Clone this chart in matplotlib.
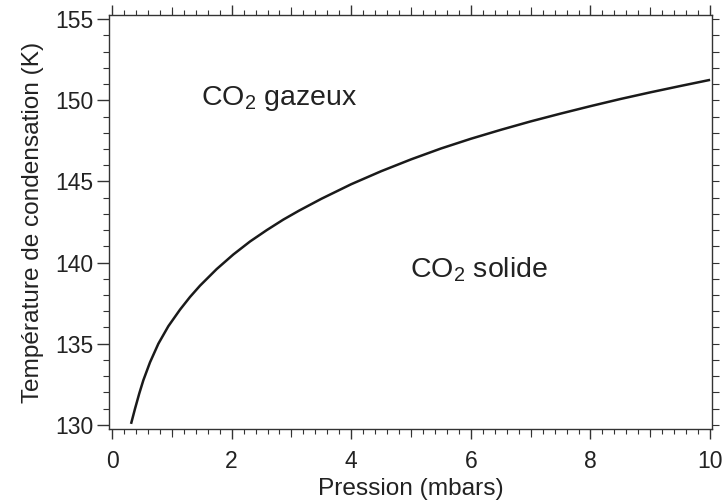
import numpy as np
import matplotlib.pyplot as plt
from matplotlib.ticker import MultipleLocator

plt.rcParams['font.family'] = ['Liberation Sans', 'DejaVu Sans']
plt.rcParams['mathtext.fontset'] = 'custom'
plt.rcParams['mathtext.rm'] = 'Liberation Sans'
plt.rcParams['mathtext.it'] = 'Liberation Sans'

# Condensation curve
pression = [0.318, 0.385, 0.457, 0.524, 0.635, 0.775, 0.942, 1.137, 1.304, 1.472, 1.75,
            2.029, 2.308, 2.587, 2.865, 3.127, 3.5, 4.0, 4.5, 5.0, 5.5, 6.0, 6.5, 7.0,
            7.5, 8.0, 8.5, 9.0, 9.5, 10.0]
temperature = [130.06, 131.0, 131.95, 132.75, 133.85, 135.0, 136.08, 137.1, 137.88, 138.58,
               139.6, 140.5, 141.3, 142.0, 142.65, 143.2, 143.93, 144.83, 145.63, 146.36,
               147.03, 147.63, 148.18, 148.7, 149.18, 149.64, 150.08, 150.49, 150.88, 151.26]

x_ticks = [0, 2, 4, 6, 8, 10]
x_mid_ticks = [1, 3, 5, 7, 9]
y_ticks = [130, 135, 140, 145, 150, 155]

spine_col = '#333333'
txt_col = '#222222'
fs = 16.5
fs_lab = 17.6
fs_in = 20.5

fig = plt.figure(figsize=(7.22, 5.04), dpi=100)
ax = fig.add_axes([0.151, 0.149, 0.835, 0.821])

ax.plot(pression, temperature, color='#1a1a1a', lw=1.8, solid_capstyle='butt',
        solid_joinstyle='round')

ax.set_xlim(-0.05, 10.03)
ax.set_ylim(129.75, 155.25)

ax.text(1.48, 149.7, 'CO$_2$ gazeux', fontsize=fs_in, ha='left', va='baseline', color=txt_col)
ax.text(4.98, 139.11, 'CO$_2$ solide', fontsize=fs_in, ha='left', va='baseline', color=txt_col)

for s in ax.spines.values():
    s.set_color(spine_col)
    s.set_linewidth(1.0)

ax.xaxis.set_minor_locator(MultipleLocator(0.2))
ax.yaxis.set_minor_locator(MultipleLocator(1))
ax.set_xticks(x_ticks)
ax.set_yticks(y_ticks)

ax.tick_params(axis='x', which='major', direction='out', length=7.5, width=1, color=spine_col,
               top=True, bottom=True, labelsize=fs, pad=8, labelcolor=txt_col)
ax.tick_params(axis='x', which='minor', direction='out', length=3.5, width=0.8, color=spine_col,
               top=True, bottom=True)
ax.tick_params(axis='y', which='major', direction='out', length=8.5, width=1, color=spine_col,
               left=True, right=False, labelsize=fs, pad=3, labelcolor=txt_col)
ax.tick_params(axis='y', which='minor', direction='out', length=4.5, width=0.8, color=spine_col,
               left=True, right=False)

# medium ticks at odd values on bottom and top
for side in ['bottom', 'top']:
    sec = ax.secondary_xaxis(side)
    sec.set_xticks(x_mid_ticks)
    sec.xaxis.set_minor_locator(plt.NullLocator())
    sec.tick_params(direction='out', length=5.5, width=0.8, color=spine_col,
                    labelbottom=False, labeltop=False)
    sec.spines[side].set_visible(False)

# right side ticks, all the same
secy = ax.secondary_yaxis('right')
secy.set_yticks(list(range(130, 156)))
secy.yaxis.set_minor_locator(plt.NullLocator())
secy.tick_params(direction='out', length=5, width=0.8, color=spine_col, labelright=False)
secy.spines['right'].set_visible(False)

ax.set_xlabel('Pression (mbars)', fontsize=fs_lab, color=txt_col, labelpad=3)
ax.set_ylabel('Température de condensation (K)', fontsize=fs_lab, color=txt_col, labelpad=8)

fig.savefig('out.png', dpi=100)
